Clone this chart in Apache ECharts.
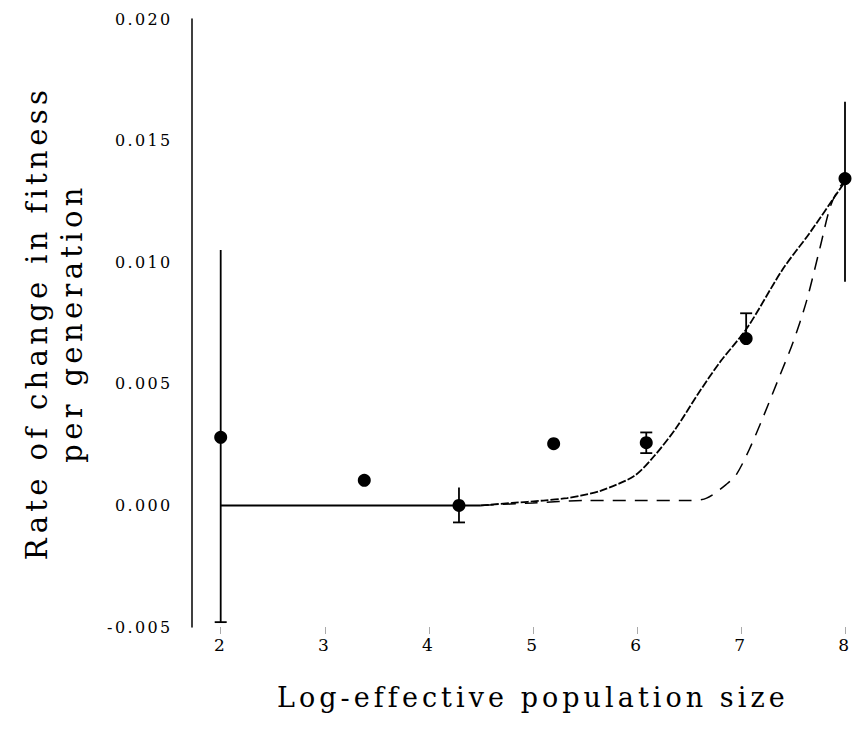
<!DOCTYPE html>
<html>
<head>
<meta charset="utf-8">
<script src="https://cdn.jsdelivr.net/npm/echarts@6/dist/echarts.min.js"></script>
<style>
  html, body { margin: 0; padding: 0; background: #fff; }
  #chart { width: 867px; height: 752px; }
  /* loose tracking for all chart text */
  #chart svg text { letter-spacing: 0.15em; }
</style>
</head>
<body>
<div id="chart"></div>
<script>
// Observed rate of change in fitness per generation against log effective population size
const popSize   = [2.0, 3.38, 4.29, 5.2, 6.09, 7.05, 8.0];
const fitRate   = [0.0028, 0.00103, 0.0, 0.00254, 0.00258, 0.00686, 0.01344];
const errLow    = [-0.0048, 0.00103, -0.0007, 0.00254, 0.00215, 0.00686, 0.0092];
const errHigh   = [0.0105, 0.00103, 0.00074, 0.00254, 0.0030, 0.0079, 0.0166];
const capLow    = [1, 0, 1, 0, 1, 0, 0];
const capHigh   = [0, 0, 0, 0, 1, 1, 0];

// Model predictions: flat segment, then two fitted curves
const flatX  = [2.0, 4.5];
const flatY  = [0.0, 0.0];
const fitAX  = [4.5, 4.8, 5.1, 5.33, 5.46, 5.65, 5.97, 6.16, 6.38, 6.59, 6.8, 7.06, 7.4, 7.66, 7.95, 8.0];
const fitAY  = [0.0, 0.0001, 0.0002, 0.0003, 0.0004, 0.0006, 0.0012, 0.002, 0.0032, 0.0046, 0.0059, 0.0073, 0.0097, 0.0112, 0.013, 0.0133];
const fitBX  = [4.5, 5.0, 5.5, 6.0, 6.5, 6.67, 6.87, 6.96, 7.08, 7.21, 7.37, 7.5, 7.63, 7.76, 7.86, 7.95, 8.0];
const fitBY  = [0.0, 0.0001, 0.0002, 0.0002, 0.0002, 0.0003, 0.0009, 0.0013, 0.0023, 0.0036, 0.0053, 0.0067, 0.0084, 0.0106, 0.0123, 0.0131, 0.0133];

const xTicks = [2, 3, 4, 5, 6, 7, 8];
const yTicks = [-0.005, 0.0, 0.005, 0.01, 0.015, 0.02];

const FONT = 'DejaVu Serif';
const zip = (xs, ys) => xs.map((x, i) => [x, ys[i]]);

const chart = echarts.init(document.getElementById('chart'), null, { renderer: 'svg' });

chart.setOption({
  backgroundColor: '#fff',
  animation: false,
  grid: { left: 220.7, right: 22, top: 19, bottom: 125, containLabel: false },
  xAxis: {
    type: 'value',
    min: xTicks[0],
    max: xTicks[xTicks.length - 1],
    interval: 1,
    name: 'Log-effective population size',
    nameLocation: 'middle',
    nameGap: 57,
    nameTextStyle: { fontFamily: FONT, fontSize: 27, color: '#000' },
    axisLine: { show: false, onZero: false },
    axisTick: { show: true, length: 7, lineStyle: { color: '#aaa', width: 1 } },
    axisLabel: { fontFamily: FONT, fontSize: 17, color: '#000', margin: 9 },
    splitLine: { show: false }
  },
  yAxis: {
    type: 'value',
    min: yTicks[0],
    max: yTicks[yTicks.length - 1],
    interval: 0.005,
    offset: 29,
    name: 'Rate of change in fitness\nper generation',
    nameLocation: 'middle',
    nameRotate: 90,
    nameGap: 102,
    nameTextStyle: { fontFamily: FONT, fontSize: 29, color: '#000', lineHeight: 35 },
    axisLine: { show: true, lineStyle: { color: '#000', width: 1.5 } },
    axisTick: { show: false },
    axisLabel: {
      fontFamily: FONT, fontSize: 16, color: '#000', margin: 19,
      formatter: v => v.toFixed(3)
    },
    splitLine: { show: false }
  },
  series: [
    {
      name: 'flat',
      type: 'line',
      data: zip(flatX, flatY),
      symbol: 'none',
      lineStyle: { color: '#000', width: 2 },
      z: 2
    },
    {
      name: 'fit A',
      type: 'line',
      data: zip(fitAX, fitAY),
      symbol: 'none',
      smooth: 0.3,
      lineStyle: { color: '#000', width: 1.8, type: [8, 2] },
      z: 2
    },
    {
      name: 'fit B',
      type: 'line',
      data: zip(fitBX, fitBY),
      symbol: 'none',
      smooth: 0.3,
      lineStyle: { color: '#000', width: 1.5, type: [13, 9] },
      z: 2
    },
    {
      name: 'error',
      type: 'custom',
      clip: false,
      data: popSize.map((x, i) => [x, errLow[i], errHigh[i], capLow[i], capHigh[i]]),
      renderItem: (params, api) => {
        const lo = api.coord([api.value(0), api.value(1)]);
        const hi = api.coord([api.value(0), api.value(2)]);
        const half = 6;
        const style = { stroke: '#000', lineWidth: 1.8 };
        const children = [
          { type: 'line', shape: { x1: lo[0], y1: lo[1], x2: hi[0], y2: hi[1] }, style }
        ];
        if (api.value(3)) {
          children.push({ type: 'line', shape: { x1: lo[0] - half, y1: lo[1], x2: lo[0] + half, y2: lo[1] }, style });
        }
        if (api.value(4)) {
          children.push({ type: 'line', shape: { x1: hi[0] - half, y1: hi[1], x2: hi[0] + half, y2: hi[1] }, style });
        }
        return { type: 'group', children };
      },
      z: 3
    },
    {
      name: 'observed',
      type: 'scatter',
      clip: false,
      data: zip(popSize, fitRate),
      symbol: 'circle',
      symbolSize: 13,
      itemStyle: { color: '#000', opacity: 1 },
      z: 4
    }
  ]
});
</script>
</body>
</html>
